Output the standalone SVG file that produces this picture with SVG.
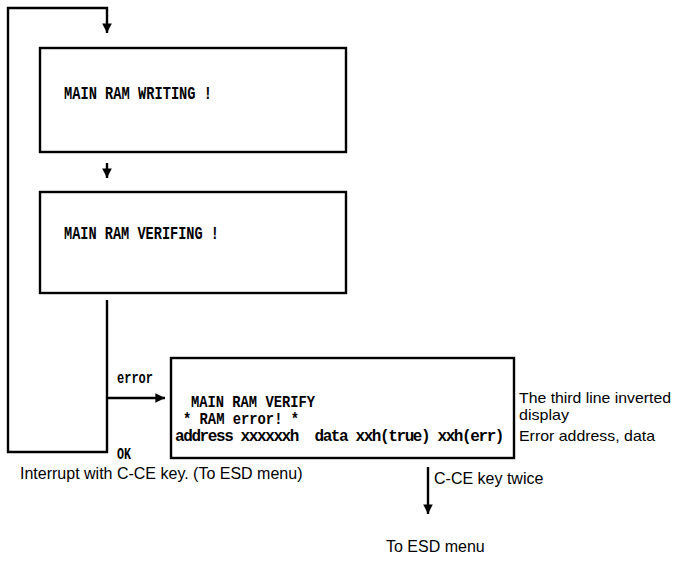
<svg xmlns="http://www.w3.org/2000/svg" width="678" height="562" viewBox="0 0 678 562">
<style>
  .box { fill: none; stroke: #000; stroke-width: 2.4; }
  .ln { fill: none; stroke: #000; stroke-width: 2.4; }
  .mono { font-family: "Liberation Mono", "DejaVu Sans Mono", monospace; font-weight: bold; font-size: 19px; fill: #000; }
  .mono-s { font-family: "Liberation Mono", "DejaVu Sans Mono", monospace; font-weight: bold; font-size: 16px; fill: #000; }
  .sans { font-family: "Liberation Sans", Arial, sans-serif; font-size: 16px; fill: #000; }
  .sans-s { font-family: "Liberation Sans", Arial, sans-serif; font-size: 14.5px; fill: #000; }
</style>
<defs>
  <marker id="ah" viewBox="0 0 10 10" refX="10" refY="5" markerWidth="4" markerHeight="4" orient="auto" markerUnits="strokeWidth">
    <path d="M0,0 L10,5 L0,10 z" fill="#000"/>
  </marker>
</defs>
<g id="connectors">
  <path class="ln" d="M107,300 L107,452 L8,452 L8,8 L107,8 L107,33" marker-end="url(#ah)"/>
  <path class="ln" d="M107,163 L107,178" marker-end="url(#ah)"/>
  <path class="ln" d="M107,398 L165,398" marker-end="url(#ah)"/>
  <path class="ln" d="M428,467 L428,514" marker-end="url(#ah)"/>
  <text class="mono-s" x="117" y="383" textLength="36" lengthAdjust="spacingAndGlyphs">error</text>
  <text class="mono-s" x="117" y="459" textLength="14" lengthAdjust="spacingAndGlyphs">OK</text>
  <text class="sans" x="20" y="479">Interrupt with C-CE key. (To ESD menu)</text>
  <text class="sans" x="434" y="484">C-CE key twice</text>
  <text class="sans" x="386" y="552">To ESD menu</text>
</g>
<g id="box-writing">
  <rect class="box" x="40" y="48" width="306" height="104"/>
  <text class="mono" x="64" y="99" textLength="148" lengthAdjust="spacingAndGlyphs">MAIN RAM WRITING !</text>
</g>
<g id="box-verifing">
  <rect class="box" x="40" y="192" width="306" height="101"/>
  <text class="mono" x="64" y="239" textLength="155" lengthAdjust="spacingAndGlyphs">MAIN RAM VERIFING !</text>
</g>
<g id="box-verify-error">
  <rect class="box" x="171" y="358" width="343" height="100"/>
  <text class="mono-s" x="191" y="407" textLength="124" lengthAdjust="spacingAndGlyphs">MAIN RAM VERIFY</text>
  <text class="mono-s" x="183" y="424" textLength="116" lengthAdjust="spacingAndGlyphs">* RAM error! *</text>
  <text class="mono-s" x="175" y="441" letter-spacing="-1.4" xml:space="preserve">address xxxxxxh  data xxh(true) xxh(err)</text>
</g>
<g id="annotations">
  <text class="sans-s" x="519" y="403" textLength="152" lengthAdjust="spacingAndGlyphs">The third line inverted</text>
  <text class="sans-s" x="519" y="420" textLength="50" lengthAdjust="spacingAndGlyphs">display</text>
  <text class="sans-s" x="519" y="441" textLength="136" lengthAdjust="spacingAndGlyphs">Error address, data</text>
</g>
</svg>
